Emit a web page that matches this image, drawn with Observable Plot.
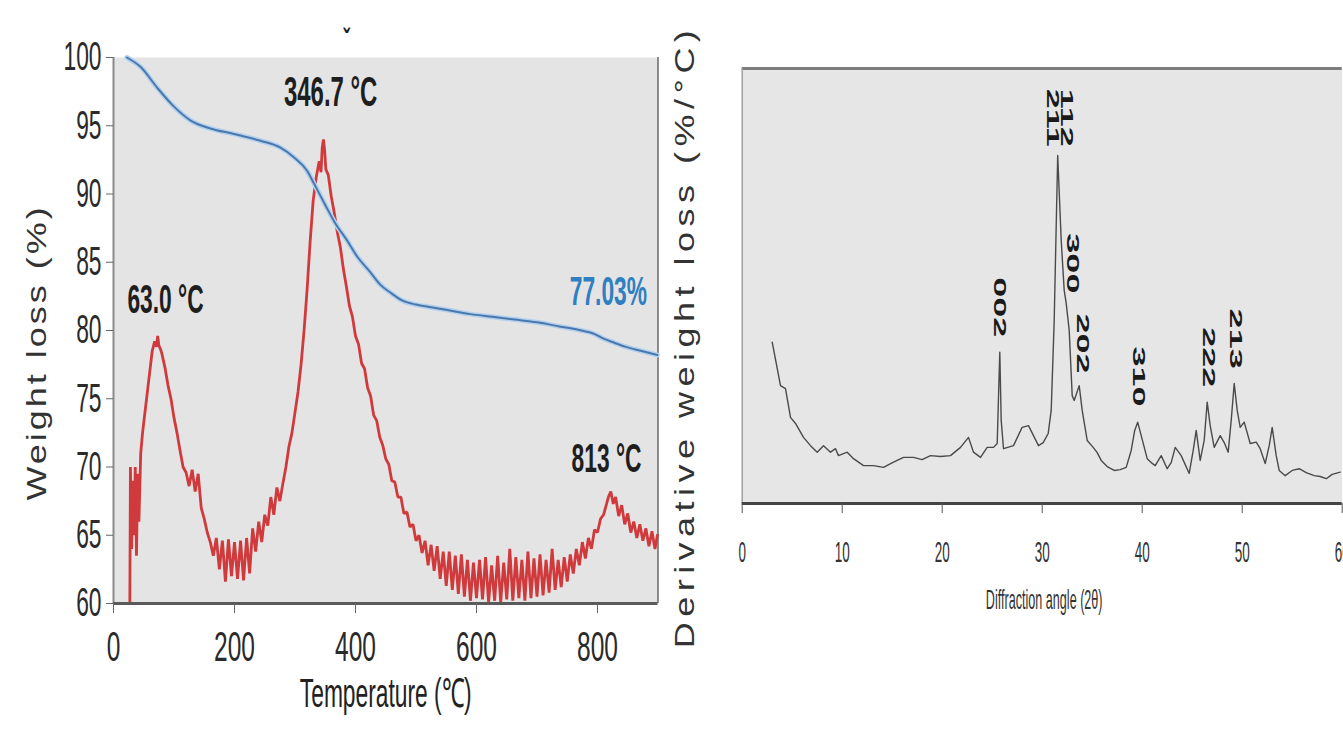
<!DOCTYPE html>
<html>
<head>
<meta charset="utf-8">
<script src="https://cdn.jsdelivr.net/npm/d3@7"></script>
<script src="https://cdn.jsdelivr.net/npm/@observablehq/plot@0.6"></script>
<style>
  html, body { margin: 0; padding: 0; background: #fff; width: 1343px; height: 736px; overflow: hidden; }
  #left { position: absolute; left: 0; top: 0; width: 720px; height: 736px; }
  #right { position: absolute; left: 700px; top: 0; width: 700px; height: 736px; }
  #left svg, #right svg { max-width: none !important; }
</style>
</head>
<body>
<div id="left"></div>
<div id="right"></div>
<script>
// ---------- Left panel: TGA / DTG ----------
const tgaTemp   = [22, 45, 72, 100, 127, 160, 199, 243, 276, 298, 320, 331, 350, 366, 386, 403, 424, 440, 460, 477, 500, 525, 552, 590, 626, 663, 700, 737, 773, 792, 810, 828, 847, 873, 899];
const tgaWeight = [100, 99.3, 97.8, 96.4, 95.4, 94.8, 94.4, 93.9, 93.4, 92.7, 91.7, 90.8, 89.2, 87.9, 86.6, 85.4, 84.3, 83.4, 82.7, 82.2, 81.9, 81.7, 81.5, 81.2, 81.0, 80.8, 80.6, 80.3, 80.0, 79.8, 79.4, 79.1, 78.8, 78.5, 78.2];

const dtgTemp = [27, 28, 30, 32, 34, 36, 38, 40, 42, 45, 48, 52, 56, 60, 64, 68, 71, 73, 75, 78, 80, 85, 90, 95, 100, 105, 110, 115, 120, 125, 130, 135, 140, 145, 150, 155, 160, 165, 170, 175, 180, 185, 190, 195, 200, 205, 210, 215, 220, 225, 230, 235, 240, 245, 250, 255, 260, 265, 270, 275, 280, 285, 290, 295, 300, 305, 310, 315, 320, 325, 330, 335, 340, 343, 345, 347, 349, 351, 355, 360, 365, 370, 375, 380, 385, 390, 395, 400, 405, 410, 415, 420, 425, 430, 435, 440, 445, 450, 455, 460, 465, 470, 475, 480, 485, 490, 495, 500, 505, 510, 515, 520, 525, 530, 535, 540, 545, 550, 555, 560, 565, 570, 575, 580, 585, 590, 595, 600, 605, 610, 615, 620, 625, 630, 635, 640, 645, 650, 655, 660, 665, 670, 675, 680, 685, 690, 695, 700, 705, 710, 715, 720, 725, 730, 735, 740, 745, 750, 755, 760, 765, 770, 775, 780, 785, 790, 795, 800, 805, 810, 815, 818, 822, 826, 830, 835, 840, 845, 850, 855, 860, 865, 870, 875, 880, 885, 890, 895, 899];
const dtgValue = [60, 70, 64, 69, 65, 70, 63.5, 69.5, 66, 71, 72.5, 74, 75.5, 77, 78.5, 79.2, 78.8, 79.6, 78.9, 78.6, 78.3, 77.3, 76, 75, 73.6, 72.5, 71.2, 70, 69.6, 68.6, 69.8, 68.2, 69.5, 67, 66.2, 65.2, 64.5, 63.5, 64.8, 62.5, 64.6, 61.6, 64.7, 62, 64.5, 61.8, 64.6, 61.7, 64.8, 62.2, 65.5, 63.8, 66, 64.5, 66.5, 65.7, 67.8, 66.5, 68.5, 67.5, 68.8, 70, 71.5, 72.5, 74, 75.5, 77.5, 80, 83, 86.5, 89.5, 91.2, 92.4, 91.6, 93.4, 94, 93.2, 91.8, 91.4, 89.8, 88.6, 87.2, 86.1, 84.5, 83.2, 81.8, 81, 79.6, 79, 77.6, 77.2, 75.8, 75.2, 73.8, 73.4, 72.2, 71.6, 70.6, 70.2, 69, 68.9, 67.8, 67.8, 66.6, 66.7, 65.6, 65.8, 64.6, 65, 63.7, 64.6, 62.8, 64.3, 62.4, 64.2, 61.8, 63.8, 61.3, 63.8, 61, 63.5, 60.7, 63.6, 60.5, 63.2, 60.2, 63, 60.4, 63.2, 60.3, 63.4, 60.1, 62.8, 60.2, 63.5, 60.1, 63, 60.3, 64, 60.2, 63.4, 60.4, 63.2, 60.2, 63.8, 60.4, 63.3, 60.5, 63.6, 60.6, 63.2, 60.8, 64, 61, 63.2, 61.2, 63.4, 61.6, 63.6, 62.2, 64, 62.8, 64.5, 63.3, 64.8, 64, 65.4, 65.2, 66.2, 66.5, 67.3, 67.8, 68.2, 67.3, 67.8, 66.4, 67.2, 65.8, 66.6, 65.2, 66, 64.8, 65.8, 64.6, 65.5, 64.2, 65.3, 64, 65, 64.3];

const tgaNotes     = ["346.7 °C", "63.0 °C", "813 °C", "77.03%", "ˇ"];
const tgaNoteTemp  = [359, 86, 815, 818, 385];
const tgaNoteValue = [97.4, 82.2, 70.6, 82.8, 101.2];

// ---------- Right panel: XRD ----------
const xrdAngle = [3.0, 3.83, 4.33, 4.83, 5.33, 6.13, 6.83, 7.5, 8.13, 8.83, 9.33, 9.63, 10.5, 11.13, 12.13, 13.13, 14.13, 15.13, 16.13, 17.13, 17.99, 18.83, 19.83, 20.83, 21.83, 22.63, 23.13, 23.83, 24.5, 25.13, 25.5, 25.62, 25.76, 25.9, 26.13, 27.13, 27.99, 28.63, 29.13, 29.63, 30.1, 30.6, 30.9, 31.2, 31.55, 31.9, 32.2, 32.4, 32.7, 33.0, 33.2, 33.7, 34.0, 34.5, 35.1, 35.5, 35.9, 36.5, 37.2, 37.8, 38.4, 38.9, 39.25, 39.55, 39.9, 40.5, 40.9, 41.3, 41.9, 42.5, 42.9, 43.3, 43.9, 44.7, 45.1, 45.4, 45.8, 46.2, 46.5, 46.8, 47.2, 47.8, 48.2, 48.6, 48.9, 49.2, 49.5, 49.8, 50.2, 50.8, 51.4, 51.8, 52.3, 52.7, 53.0, 53.4, 53.7, 54.3, 55.0, 55.7, 56.4, 57.2, 57.8, 58.4, 59.0, 59.8];
const xrdIntensity = [37.1, 27.1, 26.4, 19.8, 18.4, 15.2, 13.3, 11.8, 13.3, 11.8, 12.6, 11.0, 11.8, 10.3, 8.7, 8.7, 8.3, 9.5, 10.6, 10.6, 10.1, 11.0, 10.8, 11.0, 12.9, 15.2, 11.8, 10.6, 12.9, 12.9, 13.8, 23.7, 34.8, 19.1, 12.6, 13.3, 17.5, 17.9, 15.6, 13.3, 14.0, 16.1, 21.4, 42.1, 80.0, 60.5, 49.0, 46.0, 39.8, 24.8, 23.7, 27.1, 21.4, 14.5, 12.9, 11.7, 9.9, 8.5, 7.6, 7.8, 8.3, 12.2, 16.8, 18.7, 15.6, 10.3, 9.4, 8.7, 11.0, 8.0, 9.4, 12.9, 11.0, 6.9, 12.2, 16.8, 9.9, 14.5, 23.3, 17.9, 12.9, 15.6, 14.0, 11.8, 19.1, 27.6, 21.4, 17.5, 18.7, 13.8, 14.1, 12.6, 9.2, 13.3, 17.5, 11.0, 7.6, 6.4, 7.6, 8.0, 7.1, 6.4, 6.2, 5.7, 6.7, 7.2];

const peakLabel     = ["002", "112\n211", "300", "202", "310", "222", "213"];
const peakAngle     = [25.6, 31.6, 32.9, 33.9, 39.5, 46.5, 49.2];
const peakIntensity = [45.1, 88.7, 55.2, 36.8, 29.2, 33.6, 37.9];

const xTicksLeft  = [0, 200, 400, 600, 800];
const yTicksLeft  = [60, 65, 70, 75, 80, 85, 90, 95, 100];
const xTicksRight = [0, 10, 20, 30, 40, 50, 60];

// ---------- tables ----------
const tga = tgaTemp.map((t, i) => ({t, w: tgaWeight[i]}));
const dtg = dtgTemp.map((t, i) => ({t, w: dtgValue[i]}));
const notes = tgaNotes.map((s, i) => ({s, t: tgaNoteTemp[i], w: tgaNoteValue[i]}));
const xrd = xrdAngle.map((a, i) => ({a, v: xrdIntensity[i]}));
const peaks = peakLabel.map((s, i) => ({s, a: peakAngle[i], v: peakIntensity[i]}));

const FONT = "Liberation Sans, Arial, Helvetica, sans-serif";

const left = Plot.plot({
  width: 720, height: 736,
  marginLeft: 113, marginRight: 62.5, marginTop: 57, marginBottom: 133,
  x: {domain: [0, 900]},
  y: {domain: [60, 100]},
  style: {fontFamily: FONT, fontSize: "40px", color: "#2a2a2a", background: "transparent", overflow: "visible"},
  marks: [
    Plot.frame({fill: "#e4e4e4", stroke: null}),
    Plot.ruleX([900], {stroke: "#6a6a6a", strokeWidth: 1.5}),
    Plot.line(dtg, {x: "t", y: "w", stroke: "#d03a3c", strokeWidth: 2.8, strokeLinejoin: "miter"}),
    Plot.line(tga, {x: "t", y: "w", stroke: "#b3d1ee", strokeWidth: 5, curve: "monotone-x"}),
    Plot.line(tga, {x: "t", y: "w", stroke: "#4a78ad", strokeWidth: 2, curve: "monotone-x"}),
    Plot.ruleX([0], {stroke: "#8a8a8a", strokeWidth: 2}),
    Plot.ruleY([60], {stroke: "#5a5a5a", strokeWidth: 3}),
    Plot.axisY({ticks: yTicksLeft, tickSize: 7, tickPadding: 5, label: null, stroke: "#666", fontSize: 40}),
    Plot.axisX({ticks: xTicksLeft, tickSize: 10, tickPadding: 17, label: null, stroke: "#666", fontSize: 43}),
    Plot.text(notes, {x: "t", y: "w", text: "s", fontWeight: "bold", fontSize: (d) => d.s === "346.7 °C" ? 42 : d.s === "ˇ" ? 34 : 40,
      fill: (d) => d.s === "77.03%" ? "#2f7fc1" : "#1e1e1e"}),
    Plot.text(["Temperature (℃)"], {frameAnchor: "bottom", dy: 103, fontSize: 40, fill: "#222"}),
    Plot.text(["Weight loss (%)"], {frameAnchor: "left", textAnchor: "middle", dx: -76, dy: 22, rotate: -90, fontSize: 36, fill: "#333"}),
    Plot.text(["Derivative weight loss (%/°C)"], {frameAnchor: "right", textAnchor: "middle", dx: 27.5, dy: 6, rotate: -90, fontSize: 36, fill: "#333"})
  ]
});

const right = Plot.plot({
  width: 700, height: 736,
  marginLeft: 41.7, marginRight: 58.3, marginTop: 68, marginBottom: 233,
  x: {domain: [0, 60]},
  y: {domain: [0, 100], axis: null},
  style: {fontFamily: FONT, fontSize: "30px", color: "#333", background: "transparent", overflow: "visible"},
  marks: [
    Plot.frame({fill: "#e6e6e6", stroke: null}),
    Plot.ruleY([100], {stroke: "#7c7c7c", strokeWidth: 3}),
    Plot.ruleX([0], {stroke: "#a0a0a0", strokeWidth: 1.5}),
    Plot.line(xrd, {x: "a", y: "v", stroke: "#4a4a4a", strokeWidth: 1.4}),
    Plot.ruleY([0], {stroke: "#444", strokeWidth: 3}),
    Plot.axisX({ticks: xTicksRight, tickSize: 10, tickPadding: 27, label: null, stroke: "#555", fontSize: 30}),
    Plot.text(peaks, {x: "a", y: "v", text: "s", rotate: 90, fontWeight: "bold", fontSize: 36, lineHeight: 0.8, fill: "#1a1a1a"}),
    Plot.text(["Diffraction angle (2θ)"], {frameAnchor: "bottom", dx: 2, dy: 105, fontSize: 28, fill: "#333"})
  ]
});

// the reference is horizontally squeezed: condense glyphs around their anchors
function condense(svg, sx, sy) {
  svg.querySelectorAll("text").forEach((t) => {
    const tr = t.getAttribute("transform");
    const rotated = tr && tr.includes("rotate");
    const s = rotated ? `scale(1,${sy})` : `scale(${sx},1)`;
    if (tr) t.setAttribute("transform", tr + " " + s);
    else {
      const x = +t.getAttribute("x") || 0, y = +t.getAttribute("y") || 0;
      t.setAttribute("transform", `translate(${x},${y}) ${s} translate(${-x},${-y})`);
    }
    const c = t.textContent;
    if (c.startsWith("Weight loss")) t.setAttribute("letter-spacing", "3");
    if (c.startsWith("Derivative")) t.setAttribute("letter-spacing", "5.5");
  });
}
condense(left, 0.57, 0.75);
condense(right, 0.45, 0.47);

document.getElementById("left").append(left);
document.getElementById("right").append(right);
</script>
</body>
</html>
